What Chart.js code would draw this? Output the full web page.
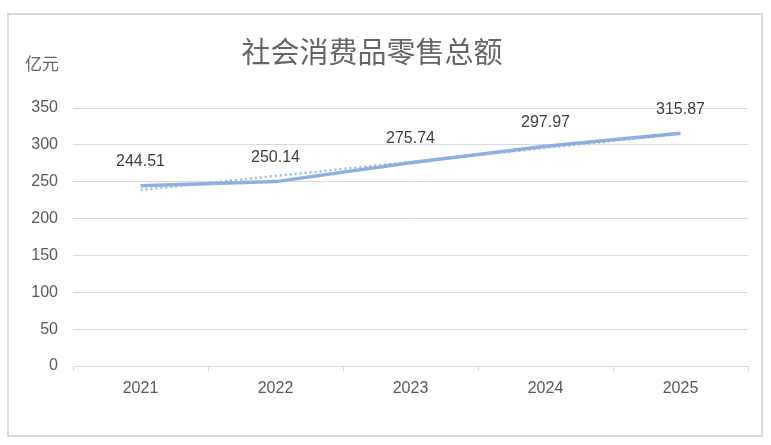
<!DOCTYPE html>
<html>
<head>
<meta charset="utf-8">
<script src="https://cdn.jsdelivr.net/npm/chart.js@4.4.1/dist/chart.umd.min.js"></script>
<style>
  html, body { margin: 0; padding: 0; background: #fff; }
  #wrap { position: absolute; left: 0; top: 0; width: 771px; height: 445px; }
</style>
</head>
<body>
<div id="wrap"><canvas id="myLineChart" width="771" height="445"></canvas></div>
<script>
// 数据
var years = ['2021', '2022', '2023', '2024', '2025'];
var retailSales = [244.51, 250.14, 275.74, 297.97, 315.87];
// 线性趋势线
var trendValues = [238.7, 257.8, 276.8, 295.9, 315.0];
var yTicks = [0, 50, 100, 150, 200, 250, 300, 350];

var chartTitle = '社会消费品零售总额';
var unitLabel = '亿元';

var lineColor = '#8FB0DF';
var numFont = '"Liberation Sans", Arial, sans-serif';
var cjkFont = '"Noto Sans CJK SC", "Noto Sans", sans-serif';

// 边框、标题、单位
var framePlugin = {
    id: 'frame',
    beforeDraw: function (chart) {
        var c = chart.ctx;
        c.save();
        c.fillStyle = '#ffffff';
        c.fillRect(0, 0, chart.width, chart.height);
        c.strokeStyle = '#d9d9d9';
        c.lineWidth = 2;
        c.strokeRect(8, 14, 754, 422);
        c.fillStyle = '#666666';
        c.textAlign = 'center';
        c.textBaseline = 'middle';
        c.font = '29px ' + cjkFont;
        c.fillText(chartTitle, 372, 52);
        c.font = '17px ' + cjkFont;
        c.fillText(unitLabel, 42, 64);
        c.restore();
    }
};

// 数据标签
var labelPlugin = {
    id: 'valueLabels',
    afterDatasetsDraw: function (chart) {
        var c = chart.ctx;
        var meta = chart.getDatasetMeta(0);
        c.save();
        c.fillStyle = '#404040';
        c.font = '16px ' + numFont;
        c.textAlign = 'center';
        c.textBaseline = 'middle';
        meta.data.forEach(function (pt, i) {
            c.fillText(retailSales[i].toFixed(2), pt.x, pt.y - 24);
        });
        c.restore();
    }
};

document.addEventListener('DOMContentLoaded', function () {
    var ctx = document.getElementById('myLineChart').getContext('2d');

    var data = {
        labels: years,
        datasets: [{
            label: chartTitle,
            data: retailSales,
            borderColor: lineColor,
            borderWidth: 3.5,
            pointRadius: 0,
            tension: 0,
            order: 1
        }, {
            label: '线性趋势线',
            data: trendValues,
            borderColor: '#9DBAE4',
            borderWidth: 2.5,
            borderDash: [2, 3],
            pointRadius: 0,
            tension: 0,
            order: 2
        }]
    };

    var options = {
        responsive: false,
        animation: false,
        layout: { padding: { top: 108, right: 23, left: 0, bottom: 0 } },
        plugins: {
            legend: { display: false },
            title: { display: false },
            tooltip: { enabled: false }
        },
        scales: {
            x: {
                offset: true,
                grid: {
                    offset: true,
                    drawOnChartArea: false,
                    drawTicks: true,
                    tickLength: 5,
                    color: '#d9d9d9'
                },
                border: { color: '#d9d9d9', width: 1 },
                ticks: {
                    color: '#595959',
                    font: { family: numFont, size: 16 },
                    padding: 8
                },
                afterFit: function (scale) { scale.height = 79; }
            },
            y: {
                min: 0,
                max: 350,
                afterBuildTicks: function (scale) {
                    scale.ticks = yTicks.map(function (v) { return { value: v }; });
                },
                grid: { color: '#d9d9d9', drawTicks: false },
                border: { display: false },
                ticks: {
                    color: '#595959',
                    font: { family: numFont, size: 16 },
                    padding: 15
                },
                afterFit: function (scale) { scale.width = 73; }
            }
        }
    };

    var myLineChart = new Chart(ctx, {
        type: 'line',
        data: data,
        options: options,
        plugins: [framePlugin, labelPlugin]
    });
});
</script>
</body>
</html>
